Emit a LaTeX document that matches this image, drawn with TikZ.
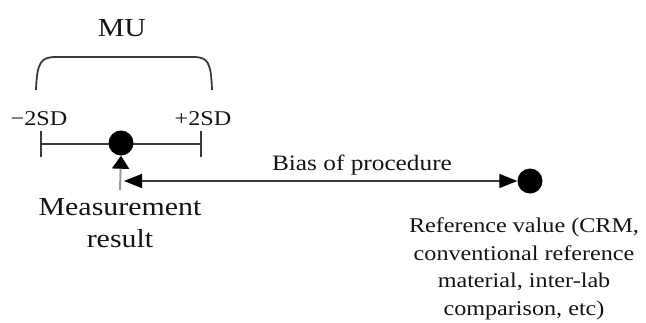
\documentclass[tikz,border=0pt]{standalone}
\usepackage{fontspec}
\setmainfont{Liberation Serif}[FakeStretch=1.15]
\usetikzlibrary{arrows.meta}
\definecolor{ln}{HTML}{3A3A3A}
\definecolor{txt}{HTML}{141414}
\begin{document}
\begin{tikzpicture}[x=1pt,y=-1pt,
  lbl/.style={text=txt,inner sep=0pt,anchor=base},
  bar/.style={draw=ln,line width=1.8pt},
  dotn/.style={circle,fill=black,inner sep=0pt,minimum size=25pt}]
\useasboundingbox (0,0) rectangle (646,322);
% MU brace
\node[lbl,font=\fontsize{26}{30}\selectfont] (mu) at (122,36) {MU};
\coordinate (bl) at (36,90);
\coordinate (br) at (212,90);
\draw[draw=ln,line width=1.8pt] (bl) .. controls (37,62) and (41,57) .. (56,57) -- (193,57) .. controls (208,57) and (211,62) .. (br);
% SD labels
\node[lbl,font=\fontsize{21}{25}\selectfont] (msd) at (39,125) {−2SD};
\node[lbl,font=\fontsize{21}{25}\selectfont] (psd) at (203,125) {+2SD};
% range bar
\coordinate (l) at (41,144);
\coordinate (r) at (201,144);
\draw[bar] (l) -- (r);
\draw[bar] ([yshift=-13pt]l) -- ([yshift=13pt]l);
\draw[bar] ([yshift=-13pt]r) -- ([yshift=13pt]r);
\node[dotn] (m) at (121,143) {};
% measurement result
\node[lbl,font=\fontsize{26}{32}\selectfont] (mr1) at (120,215) {Measurement};
\node[lbl,font=\fontsize{26}{32}\selectfont] (mr2) at (120,247) {result};
\coordinate (up) at (120,190);
\draw[draw=gray!80,line width=2pt,-{Triangle[length=13pt,width=17pt,color=black]}] (up) -- (m.south);
% reference value
\node[dotn] (ref) at (530,181) {};
\coordinate (ls) at (124,181);
\draw[draw=ln,line width=1.6pt,{Triangle[length=18pt,width=14pt,color=black]}-{Triangle[length=18pt,width=14pt,color=black]}] (ls) -- (ref.west);
\node[lbl,font=\fontsize{22}{26}\selectfont] (bias) at (362,170) {Bias of procedure};
\begin{scope}[every node/.style={lbl,font=\fontsize{21}{27}\selectfont}]
\node (r1) at (524,232) {Reference value (CRM,};
\node (r2) at (524,260) {conventional reference};
\node (r3) at (524,287) {material, inter-lab};
\node (r4) at (524,315) {comparison, etc)};
\end{scope}
\end{tikzpicture}
\end{document}
